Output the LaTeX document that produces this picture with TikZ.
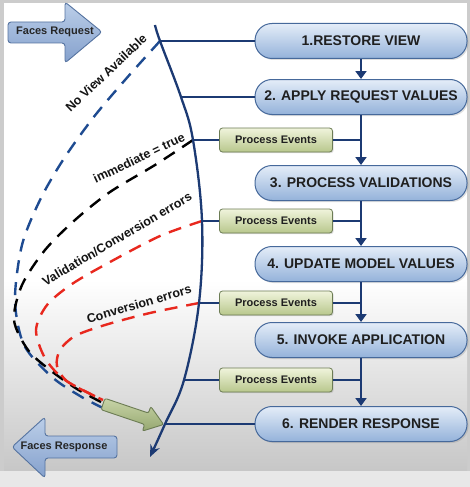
\documentclass[tikz,border=0pt]{standalone}
\usepackage{fontspec}
\setmainfont{Liberation Sans}
\usetikzlibrary{arrows.meta,shadows}
\definecolor{navy}{RGB}{28,58,115}
\definecolor{pilltop}{RGB}{228,237,248}
\definecolor{pillbot}{RGB}{148,178,218}
\definecolor{pillrim}{RGB}{70,105,155}
\definecolor{evtop}{RGB}{240,244,220}
\definecolor{evbot}{RGB}{184,199,140}
\definecolor{evrim}{RGB}{108,124,84}
\definecolor{facetop}{RGB}{188,207,233}
\definecolor{facebot}{RGB}{132,160,204}
\definecolor{facerim}{RGB}{85,115,160}
\definecolor{gtop}{RGB}{200,212,168}
\definecolor{gbot}{RGB}{150,168,112}
\definecolor{errred}{RGB}{232,40,30}
\definecolor{viewblue}{RGB}{30,75,145}

\begin{document}
\begin{tikzpicture}[x=1pt, y=-1pt,
	phase/.style={draw=pillrim, line width=1pt, rounded corners=17pt, top color=pilltop, bottom color=pillbot,
		minimum width=212pt, minimum height=35pt, font=\fontsize{14}{16}\selectfont\bfseries, text=black!88,
		drop shadow={opacity=0.25, shadow xshift=1.5pt, shadow yshift=-1.5pt}},
	evbox/.style={draw=evrim, line width=0.8pt, rounded corners=3pt, top color=evtop, bottom color=evbot,
		minimum width=113pt, minimum height=24pt, font=\fontsize{11}{13}\selectfont\bfseries, text=black!88,
		drop shadow={opacity=0.25, shadow xshift=1.2pt, shadow yshift=-1.2pt}},
	link/.style={navy, line width=2.3pt},
	flow/.style={navy, line width=2.3pt, -{Triangle[width=11pt,length=8pt]}},
	skip/.style={dash pattern=on 13pt off 9pt, line width=2.4pt},
	tag/.style={font=\fontsize{12.5}{14}\selectfont\bfseries, text=black!92, inner sep=0pt},
	facearrow/.style={draw=facerim, line width=0.9pt, rounded corners=3pt, top color=facetop, bottom color=facebot},
	facetext/.style={font=\fontsize{11}{13}\selectfont\bfseries, text=black!85},
	gbody/.style={draw=evrim, line width=0.9pt, rounded corners=2pt, top color=gtop, bottom color=gbot}]
	\useasboundingbox (0,0) rectangle (470,487);
	\fill[black!20] (0,0) rectangle (470,487);
	\fill[white] (4,3) rectangle (467,280);
	\shade[top color=white, bottom color=black!22] (4,280) rectangle (467,471);
	\fill[black!9] (0,471) rectangle (470,487);

	\coordinate (c0) at (155,25);
	\coordinate (c1) at (160,41);
	\coordinate (c2) at (181,97);
	\coordinate (c3) at (193,140);
	\coordinate (c4) at (202,221);
	\coordinate (c5) at (199,303);
	\coordinate (c6) at (184,380);
	\coordinate (c7) at (165,424);
	\coordinate (c8) at (150,457);
	\coordinate (gtail) at (103,404);

	\draw[skip, viewblue] plot[smooth] coordinates {(c1) (125,80) (93,118) (63,160) (40,200) (22,245) (15,300) (24,345) (52,377) (80,396) (103,408)};
	\draw[skip, black] plot[smooth] coordinates {(c3) (155,165) (110,192) (75,220) (45,250) (22,285) (14,320) (28,350) (50,370) (77,389) (103,403)};
	\draw[skip, errred] plot[smooth] coordinates {(c4) (160,236) (110,262) (72,284) (47,305) (36,330) (45,358) (65,380) (103,400)};
	\draw[skip, errred] plot[smooth] coordinates {(c5) (150,313) (105,325) (75,336) (60,350) (57,366) (68,382) (103,400)};

	\node[tag, rotate=43.5] (nv) at (106,73) {No View Available};
	\node[tag, rotate=25.5] (im) at (139,158) {immediate = true};
	\node[tag, rotate=30.5] (vc) at (117,239) {Validation/Conversion errors};
	\node[tag, rotate=16.5] (ce) at (139,304) {Conversion errors};

	\node[phase] (p1) at (361,41) {1.RESTORE VIEW};
	\node[phase] (p2) at (361,97) {2. APPLY REQUEST VALUES};
	\node[phase] (p3) at (361,183) {3. PROCESS VALIDATIONS};
	\node[phase] (p4) at (361,264) {4. UPDATE MODEL VALUES};
	\node[phase] (p5) at (361,340) {5. INVOKE APPLICATION};
	\node[phase] (p6) at (361,424) {6. RENDER RESPONSE};
	\node[evbox] (e1) at (276,140) {Process Events};
	\node[evbox] (e2) at (276,221) {Process Events};
	\node[evbox] (e3) at (276,303) {Process Events};
	\node[evbox] (e4) at (276,380) {Process Events};

	\foreach \a/\b in {p1/p2,p2/p3,p3/p4,p4/p5,p5/p6}
		\draw[flow] (\a.south) -- (\b.north);
	\foreach \e/\p in {e1/p2,e2/p3,e3/p4,e4/p5}
		\draw[link] (\e.east) -- (\e.east -| \p.south);

	\draw[link, -{Stealth[length=12pt,width=10pt]}] plot[smooth, tension=0.6] coordinates {(c0) (c1) (c2) (c3) (c4) (c5) (c6) (c7) (c8)};
	\draw[link] (c1) -- (p1.west);
	\draw[link] (c2) -- (p2.west);
	\draw[link] (c3) -- (e1.west);
	\draw[link] (c4) -- (e2.west);
	\draw[link] (c5) -- (e3.west);
	\draw[link] (c6) -- (e4.west);
	\draw[link] (c7) -- (p6.west);

	\begin{scope}[shift={(gtail)}, rotate=-18.7]
		\draw[gbody] (0,-6) -- (46,-6) -- (46,-13) -- (64,0) -- (46,13) -- (46,6) -- (0,6) -- cycle;
	\end{scope}

	\draw[facearrow] (8,22) -- (65,22) -- (65,2) -- (102,32) -- (65,63) -- (65,43) -- (8,43) -- cycle;
	\node[facetext] (freq) at (55,32) {Faces Request};
	\draw[facearrow] (117,436) -- (45,436) -- (45,417) -- (12,447) -- (45,478) -- (45,458) -- (117,458) -- cycle;
	\node[facetext] (fres) at (64,447) {Faces Response};
\end{tikzpicture}
\end{document}
